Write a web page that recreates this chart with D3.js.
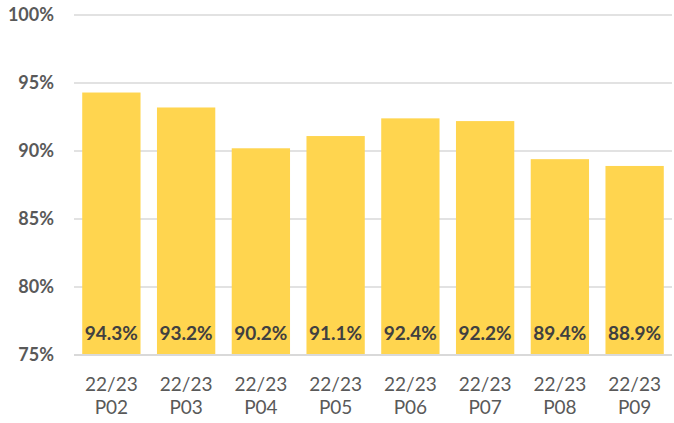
<!DOCTYPE html>
<html lang="en">
<head>
<meta charset="UTF-8">
<script src="https://d3js.org/d3.v7.min.js"></script>
<style>
  body { margin: 0; background: #fff; }
  svg text { font-family: Lato, "Open Sans", sans-serif; }
</style>
</head>
<body>
<div id="chart_area"></div>
<script>
  var periods = ["22/23 P02", "22/23 P03", "22/23 P04", "22/23 P05", "22/23 P06", "22/23 P07", "22/23 P08", "22/23 P09"];
  var values = [94.3, 93.2, 90.2, 91.1, 92.4, 92.2, 89.4, 88.9];
  var yTicks = [75, 80, 85, 90, 95, 100];

  var margin = { top: 15, right: 2, bottom: 68, left: 74 },
    width = 674 - margin.left - margin.right,
    height = 423 - margin.top - margin.bottom;

  var svg = d3.select("#chart_area").append("svg")
    .attr("width", 674)
    .attr("height", 423)
    .append("g")
    .attr("transform", "translate(" + margin.left + "," + margin.top + ")");

  var x = d3.scaleBand().domain(periods).range([0, width]).paddingInner(0.22).paddingOuter(0.11);
  var y = d3.scaleLinear().domain([75, 100]).range([height, 0]);

  // gridlines
  svg.append("g")
    .selectAll("line")
    .data(yTicks)
    .enter().append("line")
    .attr("x1", 0).attr("x2", width)
    .attr("y1", function(d) { return y(d); })
    .attr("y2", function(d) { return y(d); })
    .attr("stroke", "#d9d9d9")
    .attr("stroke-width", function(d) { return d === 75 ? 2 : 1.5; });

  // y labels
  svg.append("g")
    .selectAll("text")
    .data(yTicks)
    .enter().append("text")
    .attr("x", -20)
    .attr("y", function(d) { return y(d); })
    .attr("dy", "0.35em")
    .attr("text-anchor", "end")
    .attr("fill", "#595959")
    .style("font-size", "18px")
    .style("font-weight", "bold")
    .text(function(d) { return d + "%"; });

  // bars
  svg.append("g")
    .selectAll("rect")
    .data(values)
    .enter().append("rect")
    .attr("x", function(d, i) { return x(periods[i]); })
    .attr("width", x.bandwidth())
    .attr("y", function(d) { return y(d); })
    .attr("height", function(d) { return y(75) - y(d) - 1; })
    .attr("fill", "#FFD54F");

  // value labels
  svg.append("g")
    .selectAll("text")
    .data(values)
    .enter().append("text")
    .attr("x", function(d, i) { return x(periods[i]) + x.bandwidth() / 2; })
    .attr("y", height - 15)
    .attr("text-anchor", "middle")
    .attr("fill", "#404040")
    .style("font-size", "19px")
    .style("font-weight", "bold")
    .text(function(d) { return d.toFixed(1) + "%"; });

  // x labels
  var xl = svg.append("g")
    .selectAll("text")
    .data(periods)
    .enter().append("text")
    .attr("x", function(d) { return x(d) + x.bandwidth() / 2; })
    .attr("y", height + 36)
    .attr("text-anchor", "middle")
    .attr("fill", "#595959")
    .style("font-size", "19px");
  xl.append("tspan")
    .attr("x", function(d) { return x(d) + x.bandwidth() / 2; })
    .text(function(d) { return d.split(" ")[0]; });
  xl.append("tspan")
    .attr("x", function(d) { return x(d) + x.bandwidth() / 2; })
    .attr("dy", 23)
    .text(function(d) { return d.split(" ")[1]; });
</script>
</body>
</html>
